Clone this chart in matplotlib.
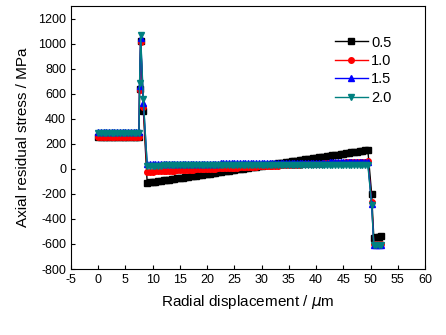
import matplotlib
matplotlib.use("Agg")
import matplotlib.pyplot as plt
import numpy as np

plt.rcParams['font.family'] = ['Liberation Sans', 'DejaVu Sans']
plt.rcParams['axes.unicode_minus'] = False

# x positions (um): flat part, spike, ramp, drop
x_flat = np.arange(0, 7.51, 0.5)
x_spike = [7.6, 7.8, 8.3]
x_mid = np.arange(9, 49.51, 0.5)
x_end = [50.2, 50.6, 51.0, 51.5, 52.0]

# 0.5
flat_05 = [255] * 16
spike_05 = [640, 1020, 460]
mid_05 = [-112, -109, -106, -102, -99, -96, -93, -89, -86, -83,
          -80, -76, -73, -70, -67, -63, -60, -57, -54, -51,
          -47, -44, -41, -38, -34, -31, -28, -25, -21, -18,
          -15, -12, -8, -5, -2, 1, 4, 8, 11, 14,
          17, 21, 24, 27, 30, 34, 37, 40, 43, 47,
          50, 53, 56, 59, 63, 66, 69, 72, 76, 79,
          82, 85, 89, 92, 95, 98, 102, 105, 108, 111,
          114, 118, 121, 124, 127, 131, 134, 137, 140, 144,
          147, 150]
end_05 = [-200, -552, -548, -542, -538]

# 1.0
flat_10 = [258] * 16
spike_10 = [632, 1010, 496]
mid_10 = [-24, -23, -22, -21, -20, -19, -18, -17, -16, -15,
          -14, -13, -12, -10, -9, -8, -7, -6, -5, -4,
          -3, -2, -1, 0, 1, 2, 3, 4, 5, 6,
          7, 8, 9, 10, 11, 12, 13, 14, 15, 17,
          18, 19, 20, 21, 22, 23, 24, 25, 26, 27,
          28, 29, 30, 31, 32, 33, 34, 35, 36, 37,
          38, 39, 40, 41, 42, 43, 44, 45, 46, 47,
          48, 49, 50, 51, 52, 53, 54, 55, 56, 57,
          58, 60]
end_10 = [-262, -600, -600, -600, -600]

# 1.5
flat_15 = [298] * 16
spike_15 = [664, 1045, 528]
mid_15 = [36, 37, 37, 37, 38, 38, 38, 38, 39, 39,
          39, 39, 40, 40, 40, 40, 40, 41, 41, 41,
          41, 41, 42, 42, 42, 42, 42, 43, 43, 43,
          43, 43, 44, 44, 44, 44, 44, 45, 45, 45,
          45, 45, 46, 46, 46, 46, 46, 47, 47, 47,
          47, 47, 48, 48, 48, 48, 48, 49, 49, 49,
          49, 49, 50, 50, 50, 50, 50, 51, 51, 51,
          51, 51, 52, 52, 52, 52, 52, 52, 52, 52,
          52, 52]
end_15 = [-280, -610, -610, -610, -610]

# 2.0
flat_20 = [290] * 16
spike_20 = [688, 1065, 555]
mid_20 = [26, 26, 26, 26, 26, 26, 27, 27, 27, 27,
          27, 27, 27, 27, 27, 27, 28, 28, 28, 28,
          28, 28, 28, 28, 28, 28, 28, 28, 28, 28,
          29, 29, 29, 29, 29, 29, 29, 29, 29, 29,
          29, 29, 29, 29, 29, 29, 29, 29, 29, 29,
          30, 30, 30, 30, 30, 30, 30, 30, 30, 30,
          30, 30, 30, 30, 30, 30, 30, 30, 30, 30,
          30, 30, 30, 30, 30, 30, 30, 30, 30, 30,
          30, 30]
end_20 = [-285, -612, -612, -612, -612]

x = np.concatenate([x_flat, x_spike, x_mid, x_end])
series = [
    ('0.5', flat_05 + spike_05 + mid_05 + end_05, 'black', 's'),
    ('1.0', flat_10 + spike_10 + mid_10 + end_10, 'red', 'o'),
    ('1.5', flat_15 + spike_15 + mid_15 + end_15, 'blue', '^'),
    ('2.0', flat_20 + spike_20 + mid_20 + end_20, '#008080', 'v'),
]

fig = plt.figure(figsize=(4.46, 3.35), dpi=100)
ax = fig.add_axes([0.159, 0.197, 0.794, 0.785])

for label, y, c, m in series:
    ax.plot(x, y, color=c, marker=m, markersize=4, linewidth=1, label=label)

ax.set_xlim(-5, 60)
ax.set_ylim(-800, 1300)
ax.set_xticks(np.arange(-5, 61, 5))
ax.set_yticks(np.arange(-800, 1201, 200))
ax.tick_params(direction='in', labelsize=9, top=False, right=False, length=3)
ax.set_xlabel('Radial displacement / $\\mu$m', fontsize=11, labelpad=5)
ax.set_ylabel('Axial residual stress / MPa', fontsize=11, labelpad=6)

ax.legend(loc='upper left', bbox_to_anchor=(0.728, 0.91), frameon=False,
          fontsize=10.5, handlelength=2.3, labelspacing=0.3, handletextpad=0.2,
          borderaxespad=0)

fig.savefig('out.png', dpi=100)
